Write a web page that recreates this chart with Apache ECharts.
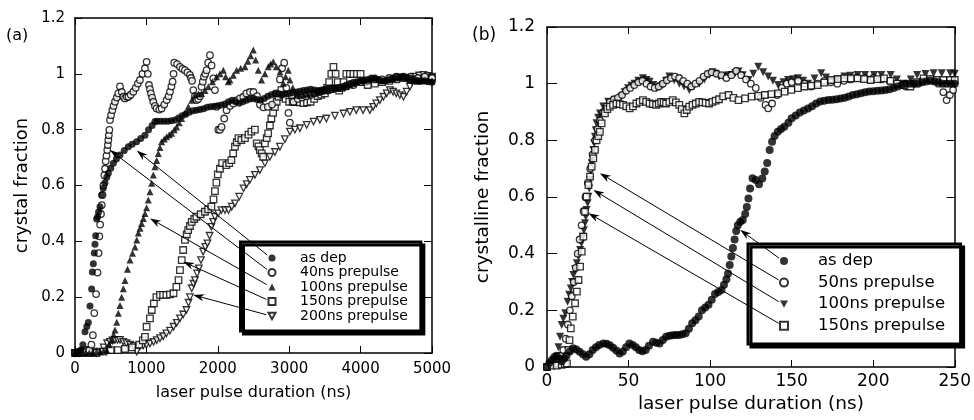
<!DOCTYPE html>
<html><head><meta charset="utf-8">
<script src="https://cdn.jsdelivr.net/npm/echarts@6/dist/echarts.min.js"></script>
<style>html,body{margin:0;padding:0;background:#fff}#c{width:974px;height:420px}</style>
</head><body><div id="c"></div>
<script>
// ---------- tick labels ----------
const xTicksA = [0, 1000, 2000, 3000, 4000, 5000];
const xTicksB = [0, 50, 100, 150, 200, 250];
const yTickLabels = ['0', '0.2', '0.4', '0.6', '0.8', '1', '1.2'];
const namesA = ['as dep', '40ns prepulse', '100ns prepulse', '150ns prepulse', '200ns prepulse'];
const namesB = ['as dep', '50ns prepulse', '100ns prepulse', '150ns prepulse'];

// ---------- panel (a): [ns, fraction] ----------
const asDepA = [[0,0],[40,0.005],[80,0.01],[110,0.03],[140,0.076],[165,0.095],[187,0.109],[210,0.168],[233,0.229],[243,0.29],[257,0.32],[270,0.358],[280,0.39],[290,0.42],[303,0.48],[317,0.488],[330,0.505],[350,0.524],[373,0.566],[395,0.59],[420,0.61],[445,0.63],[467,0.644],[500,0.662],[537,0.68],[580,0.695],[630,0.709],[690,0.725],[747,0.739],[800,0.748],[863,0.757],[920,0.768],[980,0.78],[1030,0.8],[1080,0.815],[1120,0.829],
[1150,0.83],[1200,0.83],[1250,0.83],[1300,0.83],[1350,0.832],[1400,0.835],[1450,0.842],[1500,0.85],[1550,0.855],[1600,0.862],[1650,0.868],[1700,0.87],[1750,0.872],[1800,0.875],[1850,0.88],[1900,0.882],[1950,0.884],[2000,0.886],[2050,0.888],[2100,0.892],[2150,0.9],[2200,0.905],[2250,0.9],[2300,0.895],[2350,0.9],[2400,0.905],[2450,0.91],[2500,0.912],[2550,0.908],[2600,0.905],[2650,0.912],[2700,0.92],[2750,0.925],[2800,0.93],[2850,0.928],[2900,0.925],[2950,0.928],[3000,0.93],[3050,0.932],[3100,0.935],[3150,0.938],[3200,0.94],[3250,0.942],[3300,0.945],[3350,0.942],[3400,0.94],[3450,0.942],[3500,0.945],[3550,0.948],[3600,0.95],[3650,0.95],[3700,0.95],[3750,0.955],[3800,0.96],[3850,0.965],[3900,0.97],[3950,0.972],[4000,0.975],[4050,0.978],[4100,0.98],[4150,0.985],[4200,0.985],[4250,0.98],[4300,0.975],[4350,0.975],[4400,0.98],[4450,0.985],[4500,0.99],[4550,0.99],[4600,0.99],[4650,0.988],[4700,0.985],[4750,0.98],[4800,0.975],[4850,0.975],[4900,0.975],[4950,0.972],[5000,0.97]];

const pre40A = [[0,0],[40,0],[80,0],[120,0.003],[160,0.005],[200,0.01],[230,0.03],[250,0.064],[270,0.143],[295,0.211],[315,0.288],[330,0.358],[341,0.418],[352,0.46],[364,0.498],[375,0.53],[385,0.566],[398,0.6],[411,0.637],[420,0.66],[430,0.687],[441,0.707],[452,0.727],[460,0.745],[467,0.763],[474,0.78],[481,0.799],[490,0.835],[505,0.852],[523,0.87],[540,0.885],[560,0.9],[585,0.915],[607,0.93],[630,0.955],[655,0.935],[677,0.918],[700,0.912],[725,0.918],[750,0.918],[780,0.925],[817,0.936],[850,0.95],[880,0.965],[910,0.978],[945,1.0],[980,1.02],[1003,1.043],[1020,1.0],[1036,0.96],[1050,0.945],[1064,0.93],[1080,0.915],[1097,0.9],[1120,0.885],[1143,0.876],[1180,0.872],[1213,0.876],[1250,0.89],[1283,0.906],[1310,0.92],[1330,0.936],[1350,0.955],[1367,0.972],[1380,1.0],[1390,1.04],[1430,1.035],[1470,1.025],[1505,1.018],[1540,1.013],[1575,1.005],[1610,0.996],[1625,0.985],[1640,0.975],[1657,0.942],[1680,0.92],[1703,0.906],[1725,0.91],[1750,0.92],[1773,0.954],[1790,0.972],[1806,0.99],[1825,1.0],[1843,1.013],[1865,1.04],[1890,1.067],[1913,1.03],[1937,0.984],[1960,0.942],[1983,0.882],[2007,0.8],[2030,0.8],[2053,0.81],[2090,0.84],[2123,0.87],[2170,0.885],[2217,0.894],[2260,0.905],[2310,0.912],[2357,0.918],[2400,0.93],[2450,0.935],[2500,0.935],[2550,0.92],[2590,0.89],[2640,0.88],[2700,0.882],[2760,0.89],[2820,0.93],[2870,0.98],[2900,1.02],[2930,1.04],[2960,0.95],[2990,0.86],[3010,0.825],[3060,0.9],[3120,0.91],[3180,0.915],[3240,0.92],[3300,0.925],[3360,0.93],[3420,0.935],[3480,0.94],[3540,0.94],[3600,0.945],[3700,0.95],[3800,0.955],[3900,0.96],[4000,0.97],[4100,0.975],[4200,0.98],[4300,0.98],[4400,0.985],[4500,0.99],[4600,0.99],[4700,0.99],[4800,0.985],[4900,0.99],[5000,0.985]];

const pre100A = [[0,0],[50,0],[100,0.002],[150,0.003],[200,0],[250,0.002],[300,0.003],[350,0.005],[400,0.008],[443,0.01],[480,0.03],[513,0.047],[540,0.065],[560,0.082],[585,0.11],[607,0.142],[630,0.17],[653,0.2],[677,0.23],[700,0.26],[735,0.3],[770,0.333],[805,0.357],[840,0.38],[865,0.405],[887,0.43],[910,0.447],[933,0.464],[958,0.482],[980,0.5],[1003,0.52],[1027,0.548],[1050,0.578],[1073,0.608],[1097,0.638],[1120,0.667],[1143,0.69],[1167,0.715],[1190,0.736],[1213,0.757],[1250,0.767],[1283,0.775],[1320,0.782],[1353,0.787],[1390,0.8],[1423,0.81],[1460,0.825],[1493,0.84],[1540,0.86],[1587,0.882],[1635,0.905],[1680,0.924],[1730,0.928],[1773,0.93],[1820,0.94],[1867,0.954],[1925,0.972],[1983,0.99],[2030,1.0],[2077,1.013],[2110,0.99],[2147,0.972],[2170,0.978],[2217,0.995],[2263,1.013],[2320,1.02],[2380,1.025],[2420,1.045],[2460,1.065],[2497,1.085],[2530,1.05],[2567,1.013],[2613,0.978],[2660,1.0],[2707,1.025],[2740,1.035],[2777,1.043],[2820,1.025],[2870,1.007],[2917,0.966],[2950,0.99],[2987,1.013],[3010,0.978],[3050,0.95],[3103,0.924],[3150,0.922],[3200,0.925],[3250,0.928],[3300,0.93],[3350,0.932],[3400,0.935],[3450,0.938],[3500,0.94],[3550,0.942],[3600,0.945],[3650,0.948],[3700,0.95],[3750,0.952],[3800,0.955],[3850,0.96],[3900,0.965],[3950,0.97],[4000,0.975],[4050,0.978],[4100,0.98],[4150,0.983],[4200,0.985],[4250,0.98],[4300,0.975],[4350,0.978],[4400,0.98],[4450,0.983],[4500,0.985],[4550,0.988],[4600,0.99],[4650,0.985],[4700,0.98],[4750,0.978],[4800,0.975],[4850,0.975],[4900,0.975],[4950,0.975],[5000,0.975]];

const pre150A = [[0,0],[100,0],[200,0],[300,0],[400,0.005],[500,0.01],[600,0.01],[700,0.015],[800,0.02],[900,0.03],[950,0.045],[980,0.058],[1003,0.094],[1050,0.124],[1075,0.154],[1105,0.178],[1140,0.2],[1190,0.208],[1235,0.208],[1280,0.208],[1330,0.21],[1380,0.214],[1420,0.237],[1450,0.261],[1470,0.297],[1495,0.333],[1515,0.369],[1540,0.405],[1565,0.425],[1585,0.44],[1610,0.455],[1635,0.47],[1670,0.48],[1700,0.488],[1760,0.497],[1820,0.506],[1865,0.515],[1910,0.524],[1940,0.55],[1960,0.58],[1980,0.61],[2000,0.64],[2030,0.66],[2060,0.68],[2120,0.673],[2160,0.68],[2190,0.691],[2215,0.715],[2240,0.739],[2265,0.755],[2290,0.77],[2330,0.763],[2380,0.77],[2430,0.782],[2470,0.793],[2520,0.8],[2545,0.751],[2570,0.74],[2590,0.727],[2615,0.715],[2635,0.703],[2660,0.751],[2685,0.77],[2705,0.787],[2730,0.815],[2750,0.84],[2775,0.86],[2800,0.882],[2825,0.9],[2850,0.918],[2890,0.942],[2920,0.925],[2950,0.91],[3000,0.9],[3050,0.9],[3100,0.9],[3150,0.898],[3200,0.895],[3250,0.898],[3300,0.9],[3350,0.91],[3400,0.92],[3450,0.925],[3500,0.93],[3530,0.95],[3560,0.97],[3590,1.0],[3620,1.025],[3650,1.0],[3680,0.97],[3700,0.94],[3730,0.95],[3760,0.97],[3800,1.0],[3850,1.0],[3900,1.0],[3950,1.0],[4000,1.0],[4050,0.97],[4100,0.96],[4200,0.965],[4300,0.97],[4400,0.975],[4500,0.98],[4600,0.985],[4700,0.98],[4800,0.975],[4900,0.98],[5000,0.985]];

const pre200A = [[0,0],[50,0],[100,0.005],[150,0.01],[200,0.01],[250,0.005],[300,0],[350,0.005],[400,0.02],[450,0.035],[490,0.04],[525,0.045],[560,0.047],[595,0.047],[630,0.047],[675,0.04],[720,0.035],[770,0.03],[820,0.025],[865,0.005],[910,0.025],[955,0.027],[1000,0.029],[1050,0.034],[1100,0.04],[1145,0.046],[1190,0.053],[1235,0.06],[1280,0.07],[1330,0.08],[1380,0.094],[1425,0.108],[1470,0.124],[1515,0.138],[1560,0.154],[1590,0.18],[1610,0.2],[1635,0.232],[1660,0.248],[1680,0.261],[1710,0.285],[1735,0.303],[1765,0.333],[1795,0.363],[1825,0.38],[1855,0.393],[1885,0.42],[1910,0.452],[1935,0.47],[1960,0.488],[2005,0.5],[2050,0.512],[2100,0.512],[2150,0.512],[2195,0.524],[2240,0.536],[2300,0.56],[2360,0.59],[2405,0.605],[2450,0.62],[2520,0.638],[2590,0.655],[2660,0.68],[2730,0.703],[2800,0.72],[2870,0.739],[2940,0.766],[3010,0.793],[3080,0.8],[3150,0.805],[3245,0.817],[3340,0.829],[3430,0.835],[3520,0.84],[3640,0.85],[3760,0.858],[3850,0.864],[3940,0.87],[4035,0.87],[4130,0.87],[4175,0.882],[4220,0.894],[4270,0.906],[4320,0.918],[4365,0.93],[4410,0.942],[4455,0.936],[4500,0.93],[4550,0.924],[4600,0.918],[4645,0.936],[4690,0.954],[4725,0.972],[4760,0.99],[4820,0.994],[4880,0.996],[4940,0.993],[5000,0.99]];

// ---------- panel (b): [ns, fraction] ----------
const asDepB = [[0,0],[1.5,0.015],[3,0.025],[4.5,0.035],[6,0.04],[7.5,0.03],[9,0.02],[10.5,0.03],[12,0.04],[14,0.055],[16,0.066],[18,0.062],[20,0.054],[22,0.045],[24,0.036],[26,0.045],[28,0.06],[30,0.07],[32,0.078],[34.5,0.083],[36.5,0.082],[38.5,0.077],[40.5,0.068],[42.5,0.058],[44.5,0.048],[46.5,0.055],[48.5,0.07],[50.5,0.083],[52.5,0.078],[54.5,0.07],[56.5,0.06],[58.5,0.056],[60.5,0.06],[62.5,0.075],[65,0.089],[67,0.086],[69,0.083],[71,0.095],[73,0.107],[75,0.11],[77,0.112],[79,0.113],[81,0.113],[83,0.116],[85,0.119],[87,0.135],[89,0.154],[91,0.165],[93,0.178],[95,0.2],[97,0.21],[99,0.22],[101,0.237],[103,0.258],[105,0.265],[107,0.272],[108.5,0.29],[110,0.31],[111,0.33],[112,0.36],[113,0.39],[114,0.42],[115,0.45],[116,0.48],[117,0.5],[118.5,0.513],[120,0.519],[121.5,0.54],[122.5,0.565],[123.5,0.595],[124.5,0.63],[126,0.666],[128,0.66],[130,0.645],[132,0.665],[133.5,0.69],[135,0.72],[136.5,0.766],[138,0.795],[139.5,0.815],[141.5,0.83],[143.5,0.84],[145.5,0.848],[148,0.862],[150,0.878],[152.5,0.888],[155,0.898],[157.5,0.905],[160,0.912],[162.5,0.92],[165,0.93],[167.5,0.937],[170,0.94],[172.5,0.942],[175,0.943],[177.5,0.945],[180,0.948],[182.5,0.95],[185,0.955],[187.5,0.96],[190,0.963],[192.5,0.966],[195,0.97],[197.5,0.972],[200,0.973],[202.5,0.975],[205,0.976],[207.5,0.978],[210,0.98],[212.5,0.985],[215,0.99],[217.5,0.995],[220,1.0],[222.5,1.0],[225,1.0],[227.5,1.0],[230,1.005],[232.5,1.008],[235,1.01],[237.5,1.008],[240,1.005],[242.5,1.0],[245,1.0],[247.5,1.0],[250,1.0]];

const pre50B = [[0,0],[2,0.01],[4,0.02],[6,0.03],[8,0.04],[10,0.06],[11.5,0.1],[12.8,0.15],[14,0.2],[15.2,0.25],[16.4,0.3],[17.6,0.35],[18.8,0.4],[20,0.45],[21.2,0.5],[22.4,0.55],[23.6,0.6],[25,0.65],[26.5,0.7],[28,0.75],[29.5,0.8],[31,0.84],[32.5,0.87],[34.5,0.9],[36.5,0.92],[38.5,0.935],[41,0.945],[43.5,0.95],[46,0.96],[48.5,0.975],[51,0.985],[53.5,0.995],[56,1.005],[58.5,1.01],[61,1.0],[63.5,0.99],[66,0.985],[68.5,0.99],[71,1.0],[73.5,1.012],[76,1.02],[78.5,1.025],[81,1.02],[83.5,1.01],[86,1.0],[88.5,0.99],[91,1.0],[93.5,1.01],[96,1.025],[98.5,1.035],[101,1.04],[104,1.035],[107,1.03],[110,1.02],[113,1.03],[116,1.045],[119,1.03],[122,1.015],[125,1.0],[128,0.985],[131,0.95],[134,0.925],[135.6,0.913],[138,0.93],[141,0.96],[144,0.985],[147,1.0],[150,1.005],[154,1.01],[158,1.0],[162,0.99],[166,1.0],[170,1.01],[174,1.005],[178,1.0],[182,1.01],[186,1.015],[190,1.02],[195,1.02],[200,1.02],[205,1.015],[210,1.01],[215,1.0],[220,0.99],[225,1.0],[230,1.01],[235,1.015],[240,1.0],[243,0.97],[245,0.942],[247,0.96],[249,0.978]];

const pre100B = [[0,0],[2,0.005],[4,0.013],[6,0.036],[7,0.07],[8,0.107],[9,0.148],[10,0.17],[11.2,0.19],[12.6,0.23],[13.6,0.255],[14.6,0.277],[15.4,0.3],[16.2,0.325],[17.2,0.345],[18.3,0.366],[19.3,0.39],[20.3,0.413],[21.1,0.437],[21.9,0.46],[22.6,0.483],[23.3,0.507],[23.8,0.53],[24.3,0.554],[24.9,0.578],[25.4,0.601],[25.9,0.63],[26.4,0.66],[26.9,0.69],[27.4,0.719],[27.9,0.742],[28.4,0.766],[28.9,0.79],[29.4,0.813],[29.9,0.836],[30.4,0.86],[31.4,0.88],[32.5,0.895],[34.5,0.919],[37.5,0.936],[41.6,0.942],[45.6,0.954],[47.6,0.97],[49.7,0.984],[51.7,0.993],[53.7,1.0],[56,1.01],[58.8,1.019],[61,1.013],[62.9,1.007],[65,0.995],[66.9,0.984],[69,0.99],[71,0.995],[73,1.01],[75,1.025],[78,1.012],[81.1,1.0],[84,0.99],[87.2,0.978],[90,0.99],[93.3,1.0],[96.5,1.015],[99.4,1.031],[101.5,1.04],[103.4,1.035],[105.5,1.025],[108,1.025],[111,1.03],[113.3,1.031],[115.5,1.038],[117.4,1.043],[120,1.03],[123.5,1.013],[126.5,1.035],[129.5,1.06],[132.5,1.04],[135.6,1.025],[138.5,1.01],[141.7,0.995],[145,1.005],[147.8,1.013],[151,1.016],[153.9,1.019],[157,1.01],[160,1.0],[164,1.018],[168.1,1.037],[171,1.022],[174.2,1.007],[178,1.016],[182.3,1.025],[186,1.028],[190.4,1.031],[195,1.031],[200.5,1.031],[205,1.031],[210.7,1.031],[214.5,1.015],[218.8,1.0],[223,1.015],[226.9,1.031],[232,1.034],[237,1.037],[242,1.037],[247.2,1.037],[250,1.035]];

const pre150B = [[0,0],[3,0.005],[6,0.005],[9,0.008],[11,0.01],[12.2,0.013],[13.2,0.06],[13.8,0.095],[14.6,0.136],[15.8,0.178],[17.2,0.225],[18.3,0.266],[19.3,0.307],[20.3,0.354],[21.3,0.407],[22.3,0.46],[23.3,0.548],[24.3,0.601],[25.4,0.642],[26.4,0.672],[27.4,0.707],[28.4,0.736],[29.4,0.766],[30.4,0.8],[31.4,0.815],[32.4,0.83],[33.5,0.86],[35.5,0.895],[37,0.91],[38.5,0.919],[40.5,0.925],[42.6,0.93],[44.6,0.928],[46.6,0.925],[48.6,0.92],[50.7,0.913],[52.7,0.92],[54.8,0.93],[56.8,0.936],[58.8,0.942],[60.8,0.936],[62.9,0.93],[64.9,0.928],[66.9,0.925],[68.5,0.93],[70,0.936],[71.5,0.934],[73,0.93],[75,0.936],[77.1,0.942],[79,0.934],[81.1,0.925],[82.6,0.91],[84.2,0.895],[85.7,0.907],[87.2,0.919],[89.2,0.925],[91.2,0.93],[93.3,0.936],[95.3,0.934],[97.3,0.932],[99.4,0.93],[101.4,0.936],[103.4,0.94],[105.5,0.945],[108,0.955],[111.3,0.96],[114.3,0.95],[117.4,0.942],[121.4,0.948],[125.5,0.954],[129.5,0.957],[133.6,0.96],[137.6,0.963],[141.7,0.966],[145.7,0.972],[149.8,0.978],[153.8,0.984],[157.9,0.99],[162,0.993],[166,0.995],[170,1.004],[174.2,1.013],[178.3,1.016],[182.3,1.019],[186.3,1.019],[190.4,1.019],[194.4,1.016],[198.5,1.013],[202.5,1.016],[206.6,1.019],[210.6,1.01],[214.7,1.0],[218.8,0.995],[222.8,0.99],[226.9,1.005],[230.9,1.019],[235,1.016],[239,1.013],[243,1.013],[247.2,1.013],[250,1.013]];

// ---------- annotation arrow targets (data units), in legend order ----------
const arrowTargetsA = [[864,0.725],[490,0.727],[1050,0.482],[1516,0.327],[1656,0.208]];
const arrowTargetsB = [[118.4,0.484],[32.4,0.684],[28.4,0.625],[25.4,0.543]];

// ---------- chart ----------
const FONT = 'DejaVu Sans';
const chart = echarts.init(document.getElementById('c'), null, {renderer: 'canvas'});

const LA = {left: 240.5, top: 242, pad: [8.75, 13, 7.75, 27], iw: 7, lh: 14.5, fs: 14, tp: 19.5};
const LB = {left: 748, top: 244, pad: [6.2, 15.5, 7.4, 31], iw: 8, lh: 21.6, fs: 16.5, tp: 25};
const DOWN_TRI = 'path://M0,0L10,0L5,9Z';

function yFmt(v) { return yTickLabels[Math.round(v / 0.2)]; }

function mainX(gi, ticks, fs, margin, gap, nfs) {
  return {type: 'value', gridIndex: gi, position: 'bottom', min: ticks[0], max: ticks[ticks.length - 1],
    interval: ticks[1] - ticks[0], name: 'laser pulse duration (ns)', nameLocation: 'middle', nameGap: gap,
    nameTextStyle: {fontFamily: FONT, fontSize: nfs, color: '#000'},
    axisLine: {show: true, onZero: false, lineStyle: {color: '#000', width: 1.5}},
    axisTick: {show: true, inside: true, length: 7, lineStyle: {color: '#000', width: 1}},
    axisLabel: {show: true, margin: margin, fontFamily: FONT, fontSize: fs, color: '#000', formatter: v => String(v)},
    splitLine: {show: false}};
}
function mirrorX(gi, ticks) {
  return {type: 'value', gridIndex: gi, position: 'top', min: ticks[0], max: ticks[ticks.length - 1],
    interval: ticks[1] - ticks[0],
    axisLine: {show: true, onZero: false, lineStyle: {color: '#000', width: 1.5}},
    axisTick: {show: true, inside: true, length: 7, lineStyle: {color: '#000', width: 1}},
    axisLabel: {show: false}, splitLine: {show: false}};
}
function mainY(gi, name, fs, margin, gap, nfs, tickLen, nameExtra) {
  return {type: 'value', gridIndex: gi, position: 'left', min: 0, max: 1.2, interval: 0.2,
    name: name, nameLocation: 'middle', nameRotate: 90, nameGap: gap,
    nameTextStyle: Object.assign({fontFamily: FONT, fontSize: nfs, color: '#000'}, nameExtra || {}),
    axisLine: {show: true, onZero: false, lineStyle: {color: '#000', width: 1.5}},
    axisTick: {show: true, inside: true, length: tickLen, lineStyle: {color: '#000', width: 1}},
    axisLabel: {show: true, margin: margin, fontFamily: FONT, fontSize: fs, color: '#000', formatter: yFmt},
    splitLine: {show: false}};
}
function mirrorY(gi) {
  return {type: 'value', gridIndex: gi, position: 'right', min: 0, max: 1.2, interval: 0.2,
    axisLine: {show: true, onZero: false, lineStyle: {color: '#000', width: 1.5}},
    axisTick: {show: true, inside: true, length: 8, lineStyle: {color: '#000', width: 1}},
    axisLabel: {show: false}, splitLine: {show: false}};
}

const filled = {color: '#000'};
const open = {color: '#fff', borderColor: '#000', borderWidth: 1.3};
function sc(name, data, xi, symbol, size, style, rot) {
  return {type: 'scatter', name: name, data: data, xAxisIndex: xi, yAxisIndex: xi,
    symbol: symbol, symbolSize: size, symbolRotate: rot || 0, itemStyle: style,
    silent: true, animation: false};
}

function legendOf(L, prefix, names, iconH, icons) {
  return {orient: 'vertical', left: L.left, top: L.top, padding: L.pad,
    itemWidth: L.iw, itemHeight: iconH, itemGap: 0, selectedMode: false,
    data: names.map((n, i) => icons[i] ? {name: prefix + '|' + n, icon: icons[i]} : {name: prefix + '|' + n}),
    formatter: n => n.split('|')[1],
    textStyle: {fontFamily: FONT, fontSize: L.fs, color: '#000', lineHeight: L.lh, padding: [0, 0, 0, L.tp]},
    backgroundColor: '#fff', borderColor: '#000', borderWidth: 3, borderRadius: 0,
    shadowColor: '#000', shadowBlur: 0, shadowOffsetX: 3, shadowOffsetY: 3};
}

const option = {
  animation: false,
  backgroundColor: '#fff',
  title: [
    {text: '(a)', left: 6, top: 28, padding: 0, textStyle: {fontFamily: FONT, fontSize: 16, fontWeight: 'normal', color: '#000'}},
    {text: '(b)', left: 472, top: 27, padding: 0, textStyle: {fontFamily: FONT, fontSize: 17, fontWeight: 'normal', color: '#000'}}
  ],
  grid: [
    {left: 75, top: 18, width: 357, height: 335},
    {left: 547, top: 27, width: 411, height: 340}
  ],
  xAxis: [mainX(0, xTicksA, 15, 9, 32, 16), mirrorX(0, xTicksA), mainX(1, xTicksB, 17, 6, 26, 18.5), mirrorX(1, xTicksB)],
  yAxis: [mainY(0, 'crystal fraction', 15, 10, 44, 18, 7), mirrorY(0),
          mainY(1, 'crystalline fraction', 17, 12, 38, 18.5, 10, {backgroundColor: '#fff', padding: [0, 0, 11, 0]}), mirrorY(1)],
  legend: [legendOf(LA, 'a', namesA, 7, [null, null, null, null, DOWN_TRI]),
           legendOf(LB, 'b', namesB, 8, [null, null, DOWN_TRI, null])],
  series: [
    sc('a|200ns prepulse', pre200A, 0, 'triangle', 6.5, open, 180),
    sc('a|150ns prepulse', pre150A, 0, 'rect', 6.5, open),
    sc('a|40ns prepulse', pre40A, 0, 'circle', 6.5, open),
    sc('a|100ns prepulse', pre100A, 0, 'triangle', 7, filled),
    sc('a|as dep', asDepA, 0, 'circle', 7, filled),
    sc('b|100ns prepulse', pre100B, 2, 'triangle', 8, filled, 180),
    sc('b|50ns prepulse', pre50B, 2, 'circle', 6.5, open),
    sc('b|150ns prepulse', pre150B, 2, 'rect', 6.5, open),
    sc('b|as dep', asDepB, 2, 'circle', 8, filled)
  ]
};
chart.setOption(option);

function arrow(from, to) {
  const dx = to[0] - from[0], dy = to[1] - from[1];
  const L = Math.hypot(dx, dy), ux = dx / L, uy = dy / L;
  const start = [from[0] + ux * 5, from[1] + uy * 5];
  const hl = 11, hw = 3.6;
  const base = [to[0] - ux * hl, to[1] - uy * hl];
  const notch = [to[0] - ux * hl * 0.7, to[1] - uy * hl * 0.7];
  const left = [base[0] - uy * hw, base[1] + ux * hw];
  const right = [base[0] + uy * hw, base[1] - ux * hw];
  return [
    {type: 'line', z: 50, silent: true, shape: {x1: start[0], y1: start[1], x2: notch[0], y2: notch[1]}, style: {stroke: '#000', lineWidth: 1}},
    {type: 'polygon', z: 50, silent: true, shape: {points: [to, left, notch, right]}, style: {fill: '#000'}}
  ];
}
const graphics = [];
arrowTargetsA.forEach((t, i) => {
  const p = chart.convertToPixel({xAxisIndex: 0, yAxisIndex: 0}, t);
  const s = [LA.left + LA.pad[3] + LA.iw / 2, LA.top + LA.pad[0] + LA.lh / 2 + i * LA.lh];
  graphics.push(...arrow(s, p));
});
arrowTargetsB.forEach((t, i) => {
  const p = chart.convertToPixel({xAxisIndex: 2, yAxisIndex: 2}, t);
  const s = [LB.left + LB.pad[3] + LB.iw / 2, LB.top + LB.pad[0] + LB.lh / 2 + i * LB.lh];
  graphics.push(...arrow(s, p));
});
chart.setOption({graphic: graphics});
</script>
</body></html>
